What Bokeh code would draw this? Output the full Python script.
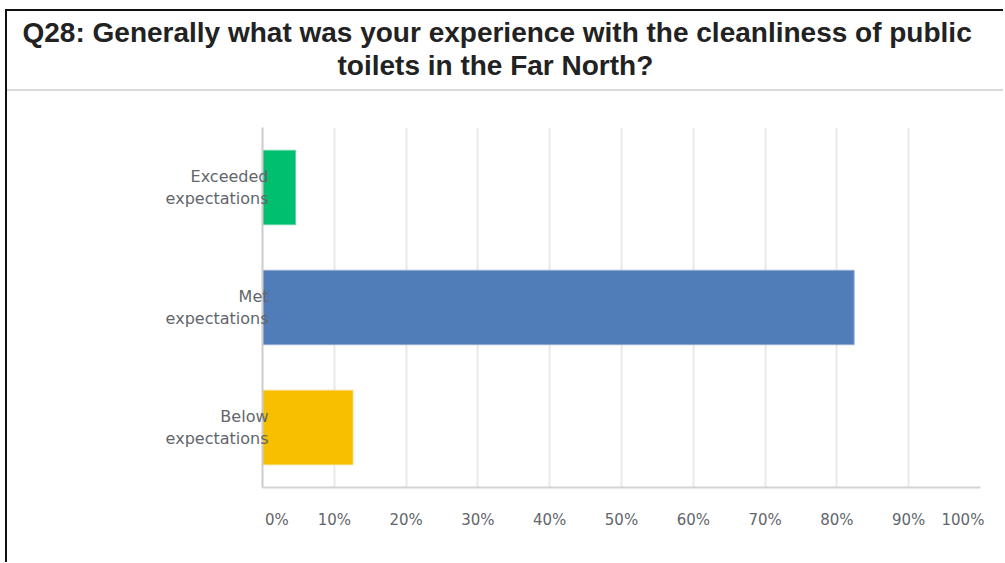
from bokeh.plotting import figure
from bokeh.models import (Range1d, FactorRange, FixedTicker, PrintfTickFormatter,
                          Title, ColumnDataSource)
from bokeh.layouts import column
from bokeh.embed import file_html
from bokeh.resources import INLINE

# ---- data ----
title_lines = ["Q28: Generally what was your experience with the cleanliness of public",
               "toilets in the Far North?"]
categories = ["Exceeded\nexpectations", "Met\nexpectations", "Below\nexpectations"]
percent = [4.6, 82.4, 12.6]
bar_colors = ["#00bf6f", "#507cb7", "#f8be00"]
edge_colors = ["#5fd39f", "#93acd3", "#fbd466"]
x_ticks = [0, 10, 20, 30, 40, 50, 60, 70, 80, 90, 100]

W = 996
HEADER_H = 80
MAIN_H = 471
TOP = 36
LEFT = 255
RIGHT = 23
LABEL_FONT = "DejaVu Sans"
LABEL_COLOR = "#62666b"
FS = "\u2007"

# ---- header with the title ----
header = figure(width=W, height=HEADER_H, x_range=Range1d(0, 1), y_range=Range1d(0, 1),
                x_axis_location=None, y_axis_location=None, output_backend="svg",
                toolbar_location=None, min_border_left=LEFT, min_border_right=RIGHT,
                min_border_top=69, min_border_bottom=0, outline_line_color=None,
                styles={"border-bottom": "2px solid #d9d9d9"})
header.grid.visible = False
# second line first: titles added later sit further from the frame
header.add_layout(Title(text=title_lines[1], align="left", offset=75, standoff=0,
                        text_font="Liberation Sans", text_font_style="bold",
                        text_font_size="28px", text_color="#222222"), "above")
header.add_layout(Title(text=title_lines[0], align="left", offset=-240, standoff=0,
                        text_font="Liberation Sans", text_font_style="bold",
                        text_font_size="28px", text_color="#222222"), "above")

# ---- main chart ----
src = ColumnDataSource(dict(cat=categories, pct=percent, color=bar_colors, edge=edge_colors))

p = figure(width=W, height=MAIN_H, x_range=Range1d(0, 100),
           y_range=FactorRange(factors=categories[::-1]),
           output_backend="svg", toolbar_location=None,
           min_border_left=LEFT, min_border_right=RIGHT, min_border_top=TOP,
           min_border_bottom=MAIN_H - TOP - 360, outline_line_color=None)

p.hbar(y="cat", left=0, right="pct", height=0.62, fill_color="color", line_color="edge",
       line_width=1, source=src)

p.xaxis.ticker = FixedTicker(ticks=x_ticks)
p.xaxis.formatter = PrintfTickFormatter(format="%d%%")
p.xaxis.major_label_overrides = {0: FS * 3 + "0%", 100: "100%" + FS * 2}
p.xaxis.major_tick_line_color = None
p.xaxis.major_tick_out = 0
p.xaxis.minor_tick_line_color = None
p.xaxis.axis_line_color = "#d3d3d3"
p.xaxis.axis_line_width = 2
p.xaxis.major_label_standoff = 23
p.xaxis.major_label_text_font = LABEL_FONT
p.xaxis.major_label_text_font_size = "15px"
p.xaxis.major_label_text_color = LABEL_COLOR

p.yaxis.major_tick_line_color = None
p.yaxis.major_tick_out = 0
p.yaxis.minor_tick_line_color = None
p.yaxis.axis_line_color = "#cccccc"
p.yaxis.axis_line_width = 2
p.yaxis.major_label_standoff = -6
p.yaxis.major_label_text_font = LABEL_FONT
p.yaxis.major_label_text_font_size = "16px"
p.yaxis.major_label_text_color = LABEL_COLOR

p.xgrid.grid_line_color = "#e9e9e9"
p.xgrid.grid_line_width = 2
p.ygrid.grid_line_color = None

layout = column(header, p, styles={"margin-left": "5px", "margin-top": "9px",
                                   "border-left": "2px solid #111111",
                                   "border-top": "2px solid #111111"})

open("out.html", "w").write(file_html(layout, INLINE))
